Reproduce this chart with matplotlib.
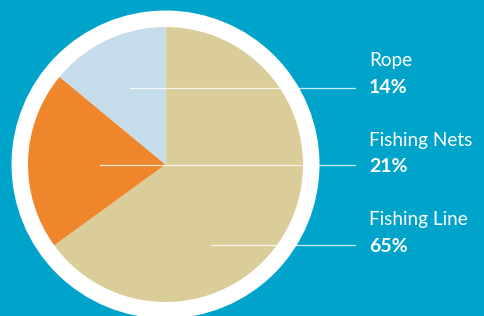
import matplotlib.pyplot as plt
from matplotlib.patches import Circle

# data
labels = ["Fishing Line", "Fishing Nets", "Rope"]
shares = [65, 21, 14]
colors = ["#DBCD9A", "#EF862B", "#C5DCEB"]

W, H = 484, 316
bg = "#00A4CA"

fig = plt.figure(figsize=(4.84, 3.16), dpi=100)
fig.patch.set_facecolor(bg)
ax = fig.add_axes([0, 0, 1, 1])
ax.set_facecolor(bg)

cx, cy = 165.5, H - 164.5

# white ring behind the pie
ax.add_patch(Circle((cx, cy), 154, facecolor="white", edgecolor="none", zorder=1))

wedges, _ = ax.pie(shares, colors=colors, startangle=90, counterclock=False,
                   center=(cx, cy), radius=137.5,
                   wedgeprops=dict(linewidth=0, zorder=2))
for w in wedges:
    w.set_zorder(2)

# leader lines and labels (pixel positions, y measured from top)
line_y = [245, 165, 88]
line_x0 = [211, 100, 130]
name_base = [225, 146, 66]
pct_base = [252, 172, 93]

for lab, s, ly, lx, nb, pb in zip(labels, shares, line_y, line_x0, name_base, pct_base):
    ax.plot([lx, 355], [H - ly, H - ly], color="white", lw=0.9, alpha=0.8, zorder=3)
    ax.text(369, H - nb, lab, color="white", fontsize=13.6, family="Lato",
            ha="left", va="baseline")
    ax.text(369, H - pb, f"{s}%", color="white", fontsize=14, family="Lato",
            fontweight="bold", ha="left", va="baseline")

ax.set_xlim(0, W)
ax.set_ylim(0, H)
ax.set_aspect("auto")
ax.axis("off")

fig.savefig("out.png", dpi=100, facecolor=bg)
